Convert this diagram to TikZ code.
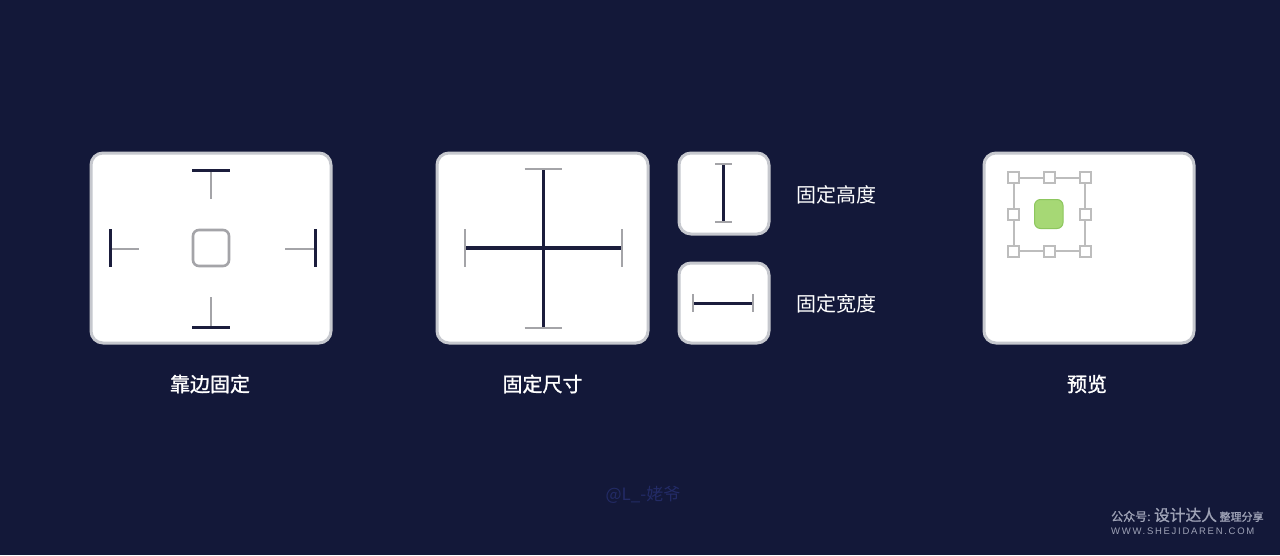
\documentclass[tikz,border=0pt]{standalone}
\usepackage{fontspec}
\newfontfamily\cjk{Noto Sans CJK SC}
\newfontfamily\cjkm[FakeBold=1.2]{Noto Sans CJK SC}
\newfontfamily\wsans[LetterSpace=18]{Liberation Sans}
\definecolor{bg}{HTML}{131839}
\definecolor{frame}{HTML}{C6C8CE}
\definecolor{ink}{HTML}{1B1D3C}
\definecolor{cap}{HTML}{A4A4A8}
\definecolor{sel}{HTML}{BDBDBD}
\definecolor{grn}{HTML}{A6D875}
\definecolor{grnd}{HTML}{8DC65E}
\definecolor{wm}{HTML}{9EA2B6}
\definecolor{wmb}{HTML}{232B66}
\tikzset{
  card/.style={draw=frame, line width=3pt, fill=white, rounded corners=12pt},
  darkbar/.style={draw=ink, line width=3pt},
  graybar/.style={draw=cap, line width=2pt},
  label/.style={text=white, font=\cjk\fontsize{20}{24}\selectfont, inner sep=0pt},
  blabel/.style={text=white, font=\cjkm\fontsize{20}{24}\selectfont, inner sep=0pt},
  handle/.style={draw=sel, line width=2pt, fill=white, minimum size=11pt, inner sep=0pt, rectangle},
}
\begin{document}
\begin{tikzpicture}[x=1pt,y=-1pt]
\fill[bg] (0,0) rectangle (1280,555);
\useasboundingbox (0,0) rectangle (1280,555);

% ---- card 1: edge pinning
\draw[card] (91,153) rectangle (331,343);
\draw[graybar] (210.5,170) -- (210.5,199);
\draw[darkbar] (192,170) -- (230,170);
\draw[graybar] (210.5,297) -- (210.5,327);
\draw[darkbar] (192,327) -- (230,327);
\draw[graybar] (110,248.5) -- (139,248.5);
\draw[darkbar] (110,229) -- (110,267);
\draw[graybar] (285,248.5) -- (315,248.5);
\draw[darkbar] (315,229) -- (315,267);
\draw[draw=cap, line width=2.6pt, rounded corners=6pt] (193,230) rectangle (229,266);

% ---- card 2: fixed size
\draw[card] (437,153) rectangle (648,343);
\draw[darkbar, line width=3.4pt] (543.5,169) -- (543.5,328);
\draw[darkbar, line width=3.4pt] (464.5,248) -- (621.5,248);
\draw[graybar] (524.5,169) -- (562,169);
\draw[graybar] (524.5,328) -- (562,328);
\draw[graybar] (464.5,229) -- (464.5,267);
\draw[graybar] (621.5,229) -- (621.5,267);

% ---- card 3: fixed height
\draw[card] (679,153) rectangle (769,234);
\draw[darkbar] (723,164) -- (723,221.5);
\draw[graybar] (715,164) -- (731.5,164);
\draw[graybar] (715,221.5) -- (731.5,221.5);
\node[label, anchor=west] (lh) at (796,195) {固定高度};

% ---- card 4: fixed width
\draw[card] (679,263) rectangle (769,343);
\draw[darkbar] (693,303.5) -- (753,303.5);
\draw[graybar] (693,294) -- (693,312);
\draw[graybar] (753,294) -- (753,312);
\node[label, anchor=west] (lw) at (796,304) {固定宽度};

% ---- card 5: preview
\draw[card] (984,153) rectangle (1194,343);
\draw[draw=sel, line width=2pt] (1013.5,177.5) rectangle (1085,251);
\foreach \x/\n in {1013.5/a,1049/b,1085/c}{
  \node[handle] (t\n) at (\x,177.5) {};
  \node[handle] (u\n) at (\x,251) {};
}
\node[handle] (ml) at (1013.5,214.5) {};
\node[handle] (mr) at (1085,214.5) {};
\draw[draw=grnd, fill=grn, line width=1pt, rounded corners=6pt] (1034.5,199.5) rectangle (1063,228.5);

% ---- bottom labels
\node[blabel] (l1) at (210,384) {靠边固定};
\node[blabel] (l2) at (542.5,384) {固定尺寸};
\node[blabel] (l3) at (1087,384) {预览};

% ---- watermarks
\node[text=wmb, font=\cjk\fontsize{17}{19}\selectfont, inner sep=0pt] (wa) at (643,495) {@L\_-姥爷};
\node[text=wm, font=\cjkm\fontsize{12}{14}\selectfont, inner sep=0pt, anchor=west] (wb) at (1111,515) {公众号: {\fontsize{15.7}{18}\selectfont 设计达人} {\fontsize{11}{13}\selectfont 整理分享}};
\node[text=wm, font=\wsans\fontsize{9.5}{11}\selectfont, inner sep=0pt, anchor=west] (wc) at (1111,531) {WWW.SHEJIDAREN.COM};
\end{tikzpicture}
\end{document}
